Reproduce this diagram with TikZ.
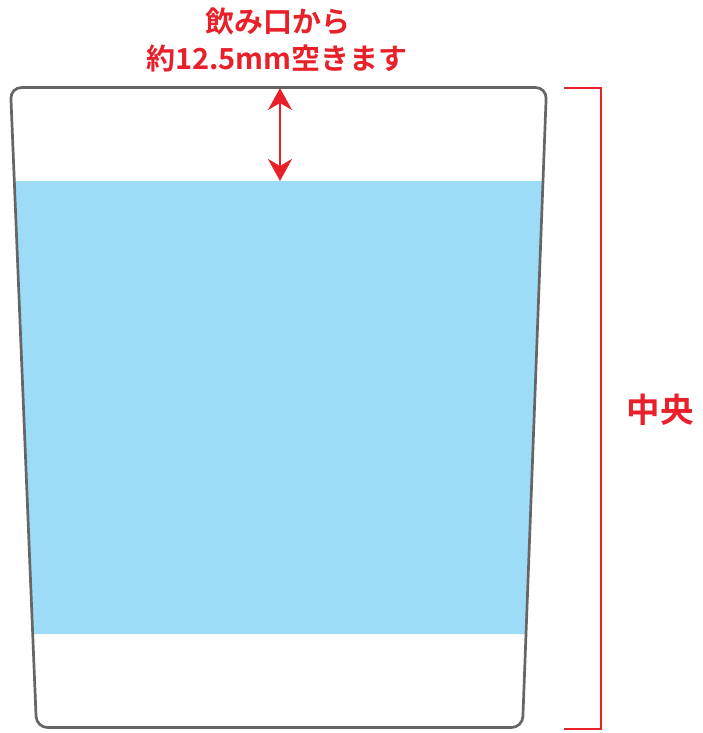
\documentclass[tikz,border=0pt]{standalone}
\usepackage{fontspec}
\newfontfamily\jpfont{Noto Sans CJK JP Bold}
\usetikzlibrary{arrows.meta}
\definecolor{redc}{HTML}{E8202A}
\definecolor{cupgray}{HTML}{666666}
\definecolor{water}{HTML}{9DDCF7}
\tikzset{
  label/.style={text=redc, font=\jpfont, inner sep=0pt, anchor=center},
  redline/.style={draw=redc, line width=2.7pt},
}
\begin{document}
\begin{tikzpicture}[x=1pt,y=-1pt]
\useasboundingbox (0,0) rectangle (702,733);
% water
\fill[water] (14.2,181) -- (543.3,181) -- (525.3,634) -- (32.6,634) -- cycle;
% cup
\draw[cupgray, line width=2.7pt, rounded corners=11pt] (10.5,87.5) -- (546.5,87.5) -- (522.5,727.5) -- (36.5,727.5) -- cycle;
% texts
\node[label, font=\jpfont\fontsize{29}{29}\selectfont] (t1) at (278,21) {飲み口から};
\node[label, font=\jpfont\fontsize{29}{29}\selectfont] (t2) at (277,58) {約12.5mm空きます};
\node[label, font=\jpfont\fontsize{33.5}{33.5}\selectfont] (mid) at (660,410) {中央};
% arrow
\coordinate (atop) at (280,88);
\coordinate (abot) at (280,181);
\draw[redline, line width=2.6pt, {Stealth[length=22pt,width=24pt,inset=7pt]}-{Stealth[length=22pt,width=24pt,inset=7pt]}] (atop) -- (abot);
% bracket
\coordinate (b1) at (564,88);
\coordinate (b2) at (601,88);
\coordinate (b3) at (601,729);
\coordinate (b4) at (564,729);
\draw[redline] (b1) -- (b2) -- (b3) -- (b4);
\end{tikzpicture}
\end{document}
